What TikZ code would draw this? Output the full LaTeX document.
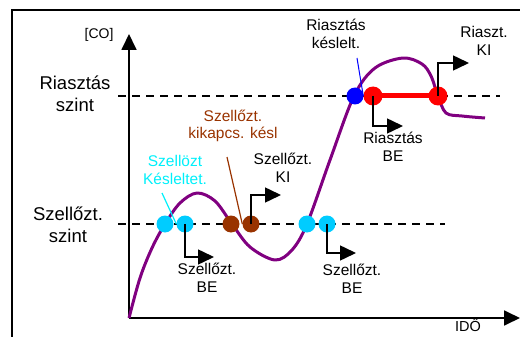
\documentclass[tikz,border=0pt]{standalone}
\usepackage{fontspec}
\setmainfont{Liberation Sans}
\usetikzlibrary{arrows.meta}
\definecolor{ventdot}{RGB}{0,204,255}
\definecolor{ventlbl}{RGB}{0,240,250}
\definecolor{brn}{RGB}{153,51,0}
\definecolor{co}{RGB}{128,0,128}
\begin{document}
\begin{tikzpicture}[x=1pt,y=-1pt,
    dot/.style={circle,inner sep=0pt,minimum size=17pt},
    lbl/.style={font=\fontsize{15.5}{17.5}\selectfont,align=center},
    side/.style={font=\fontsize{18.5}{21.5}\selectfont,align=center},
    axis/.style={-{Triangle[length=16pt,width=15pt]},line width=1.8pt},
    steparrow/.style={-{Triangle[length=16pt,width=15pt]},line width=1.5pt},
    level/.style={dash pattern=on 8pt off 6pt,line width=1.4pt}]
  \useasboundingbox (0,0) rectangle (520,337);
  \draw[line width=2.5pt] (12,10) rectangle (535,350);
  % axes
  \coordinate (o) at (129,318);
  \coordinate (ytop) at (129,34);
  \coordinate (xend) at (520,318);
  \draw[axis] (o) -- (ytop);
  \draw[axis] (o) -- (xend);
  \node[font=\fontsize{14}{16}\selectfont] (colbl) at (99,35) {[CO]};
  \node[font=\fontsize{14.5}{16}\selectfont] (time) at (468,325) {IDŐ};
  % levels
  \draw[level] (118,96) -- (500,96);
  \draw[level] (118,224) -- (445,224);
  \node[side] (alarmlvl) at (75,94) {Riasztás\\szint};
  \node[side] (ventlvl) at (68,225) {Szellőzt.\\szint};
  % concentration
  \draw[co,line width=3pt,line join=round] plot[smooth,tension=0.55] coordinates {
    (129,318) (140,278) (152,248) (165,224) (180,203) (197,193) (215,201)
    (232,224) (250,247) (275,260) (292,250) (307,224) (330,160) (354,96)
    (375,68) (403,58) (422,64) (431,76) (438,96) (446,113) (462,116) (485,118)};
  % points
  \draw[red,line width=5pt] (373,96) -- (438,96);
  \draw
    (165,224) node[dot,fill=ventdot] (s1){}
    (185,224) node[dot,fill=ventdot] (s2){}
    (307,224) node[dot,fill=ventdot] (s3){}
    (327,224) node[dot,fill=ventdot] (s4){}
    (231,224) node[dot,fill=brn] (b1){}
    (251,224) node[dot,fill=brn] (b2){}
    (355,96) node[dot,fill=blue] (a0){}
    (373,96) node[dot,fill=red,minimum size=19pt] (a1){}
    (438,96) node[dot,fill=red,minimum size=19pt] (a2){};
  % switching arrows
  \coordinate (s2end) at (214,257);
  \coordinate (s4end) at (356,253);
  \coordinate (b2end) at (281,195);
  \coordinate (a1end) at (403,126);
  \coordinate (a2end) at (469,63);
  \begin{scope}[steparrow]
    \draw (s2.center) |- (s2end);
    \draw (s4.center) |- (s4end);
    \draw (b2.center) |- (b2end);
    \draw (a1.center) |- (a1end);
    \draw (a2.center) |- (a2end);
  \end{scope}
  \node[lbl] (s2lbl) at (207,278) {Szellőzt.\\BE};
  \node[lbl] (s4lbl) at (352,279) {Szellőzt.\\BE};
  \node[lbl] (b2lbl) at (283,168) {Szellőzt.\\KI};
  \node[lbl] (a1lbl) at (393,147) {Riasztás\\BE};
  \node[lbl] (a2lbl) at (484,41) {Riaszt.\\KI};
  % delays
  \node[lbl] (a0lbl) at (336,34) {Riasztás\\késlelt.};
  \node[lbl,text=ventlbl] (s1lbl) at (175,170) {Szellözt\\Késleltet.};
  \node[lbl,text=brn] (b1lbl) at (233,126) {Szellőzt.\\kikapcs. késl};
  \coordinate (a0tip) at (357,58);
  \coordinate (s1tip) at (162,193);
  \coordinate (b1tip) at (227,157);
  \draw[blue,line width=1pt] (a0tip) -- (a1.west);
  \draw[ventlbl,line width=1.2pt] (s1tip) -- (s2.west);
  \draw[brn,line width=1.2pt] (b1tip) -- (b2.west);
\end{tikzpicture}
\end{document}
